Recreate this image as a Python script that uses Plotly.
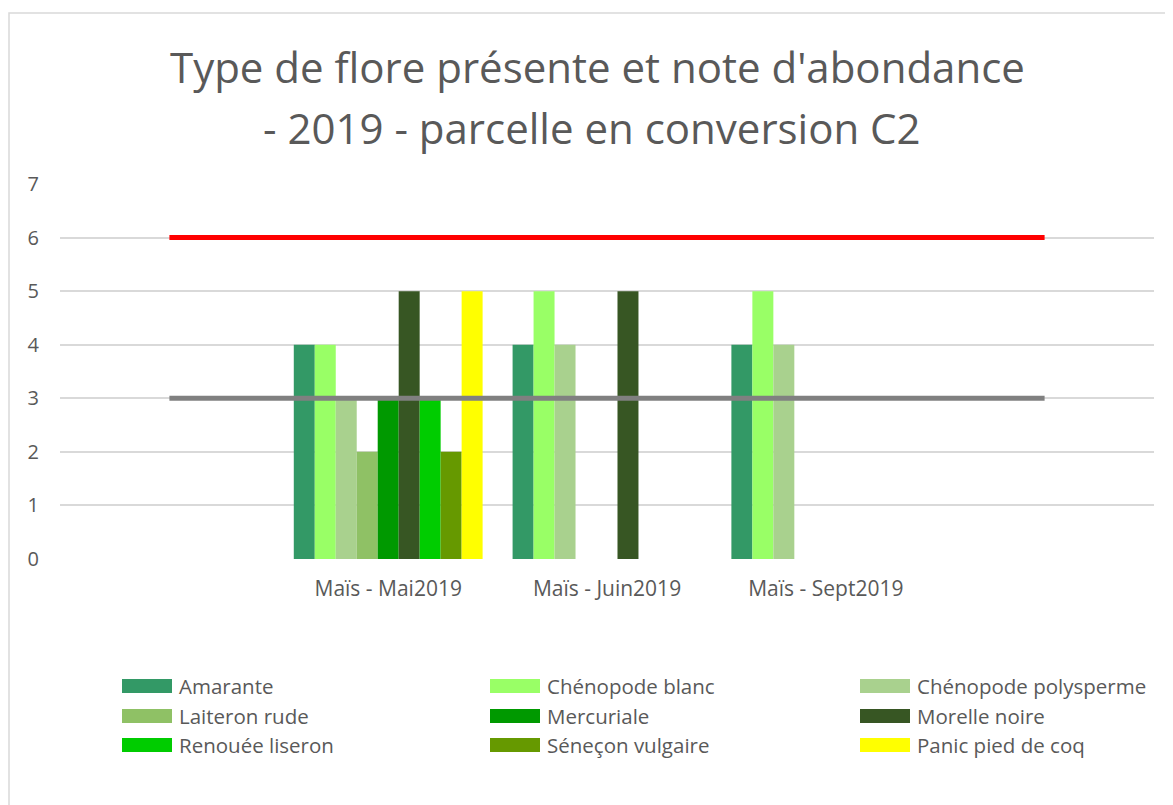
import plotly.graph_objects as go

categories = ["", "Maïs - Mai2019", "Maïs - Juin2019", "Maïs - Sept2019", ""]

species = ["Amarante", "Chénopode blanc", "Chénopode polysperme",
           "Laiteron rude", "Mercuriale", "Morelle noire",
           "Renouée liseron", "Séneçon vulgaire", "Panic pied de coq"]

amarante = [None, 4, 4, 4, None]
chenopode_blanc = [None, 4, 5, 5, None]
chenopode_polysperme = [None, 3, 4, 4, None]
laiteron_rude = [None, 2, None, None, None]
mercuriale = [None, 3, None, None, None]
morelle_noire = [None, 5, 5, None, None]
renouee_liseron = [None, 3, None, None, None]
senecon_vulgaire = [None, 2, None, None, None]
panic_pied_de_coq = [None, 5, None, None, None]

seuil_haut = [6, 6, 6, 6, 6]
seuil_bas = [3, 3, 3, 3, 3]

colors = ["#339966", "#99FF66", "#A9D18E", "#8FC165", "#009900",
          "#375623", "#00CC00", "#669900", "#FFFF00"]

series = [amarante, chenopode_blanc, chenopode_polysperme, laiteron_rude,
          mercuriale, morelle_noire, renouee_liseron, senecon_vulgaire,
          panic_pied_de_coq]

x = list(range(len(categories)))

FONT = "Open Sans"
TXT = "#595959"
OFF = 8  # page body margin
W, H = 1173 - OFF, 805 - OFF
L, R, T, B = 60 - OFF, 19, 184 - OFF, 246
pw, ph = W - L - R, H - T - B

def px2x(p):
    return (p - OFF - L) / pw

def py2y(p):
    return (H - B - (p - OFF)) / ph

fig = go.Figure()
for name, vals, col in zip(species, series, colors):
    fig.add_trace(go.Bar(x=x, y=vals, name=name, marker_color=col,
                         marker_line_width=0, showlegend=False))

fig.add_trace(go.Scatter(x=x, y=seuil_haut, mode="lines", showlegend=False,
                         line=dict(color="#FF0000", width=5)))
fig.add_trace(go.Scatter(x=x, y=seuil_bas, mode="lines", showlegend=False,
                         line=dict(color="#808080", width=5)))

shapes = []
annotations = []
# chart border
shapes.append(dict(type="rect", xref="paper", yref="paper",
                   x0=px2x(9), x1=px2x(1185), y0=py2y(820), y1=py2y(13),
                   line=dict(color="#D9D9D9", width=1.5), layer="below"))

# custom legend (3 columns)
col_x = [122, 490, 860]
row_y = [686, 716, 745]
for i, (name, col) in enumerate(zip(species, colors)):
    r, c = divmod(i, 3)
    sx = col_x[c]
    sy = row_y[r]
    shapes.append(dict(type="rect", xref="paper", yref="paper",
                       x0=px2x(sx), x1=px2x(sx + 50),
                       y0=py2y(sy + 7), y1=py2y(sy - 7),
                       fillcolor=col, line=dict(width=0)))
    annotations.append(dict(xref="paper", yref="paper", x=px2x(sx + 55),
                            y=py2y(sy), text=name, showarrow=False,
                            xanchor="left", yanchor="middle",
                            font=dict(family=FONT, size=20.5, color=TXT)))

# title lines
annotations.append(dict(xref="paper", yref="paper", x=px2x(597), y=py2y(66),
                        text="Type de flore présente et note d'abondance",
                        showarrow=False, xanchor="center", yanchor="middle",
                        font=dict(family=FONT, size=42, color=TXT)))
annotations.append(dict(xref="paper", yref="paper", x=px2x(592), y=py2y(127),
                        text="- 2019 - parcelle en conversion C2",
                        showarrow=False, xanchor="center", yanchor="middle",
                        font=dict(family=FONT, size=42, color=TXT)))

fig.update_layout(
    width=W, height=H,
    margin=dict(l=L, r=R, t=T, b=B),
    paper_bgcolor="white", plot_bgcolor="white",
    barmode="group", bargap=0.137, bargroupgap=0,
    font=dict(family=FONT, color=TXT),
    shapes=shapes, annotations=annotations,
    showlegend=False,
)
fig.update_xaxes(range=[-0.5, 4.5], tickvals=[1, 2, 3],
                 ticktext=categories[1:4], showgrid=False, zeroline=False,
                 showline=False, ticks="", ticklabelstandoff=15,
                 tickfont=dict(family=FONT, size=21, color=TXT))
fig.update_yaxes(range=[0, 7], dtick=1, showgrid=True, gridcolor="#D9D9D9",
                 gridwidth=1.5, zeroline=False, showline=False, ticks="",
                 ticklabelstandoff=20,
                 tickfont=dict(family=FONT, size=20, color=TXT))

fig.write_html("out.html")
